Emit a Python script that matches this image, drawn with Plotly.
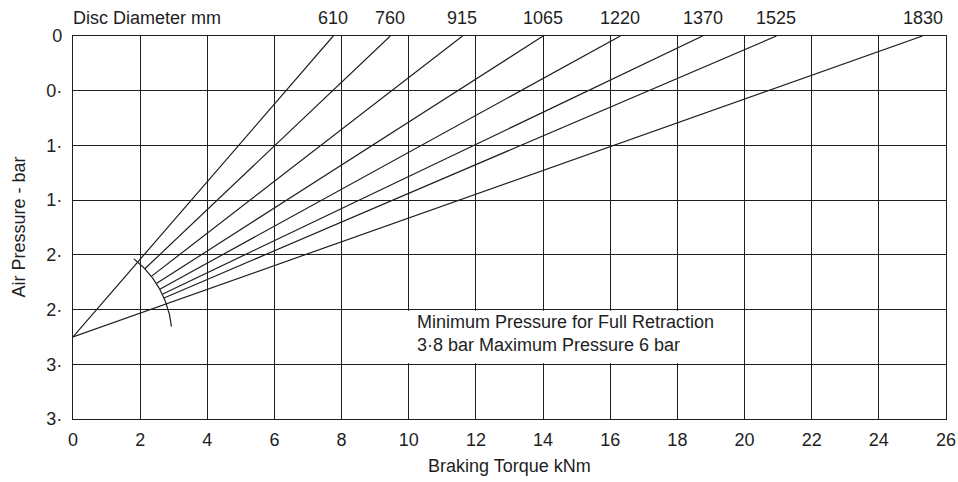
import numpy as np
import plotly.graph_objects as go

# ---- data ----
disc_diameters_mm = [610, 760, 915, 1065, 1220, 1370, 1525, 1830]
torque_at_zero_bar = [7.75, 9.45, 11.6, 14.0, 16.3, 18.75, 20.95, 25.3]   # kNm where each line meets 0 bar
origin_pressure = 2.75                                                     # bar at 0 kNm (common origin)
x_ticks = list(range(0, 27, 2))
y_ticks = [0, 0.5, 1.0, 1.5, 2.0, 2.5, 3.0, 3.5]
y_tick_text = ["0", "0·", "1·", "1·", "2·", "2·", "3·", "3·"]

# ---- layout constants ----
W, H = 958, 482
ML, MR, MT, MB = 73, 12, 36, 63
X_RANGE = (0, 26)
Y_RANGE = (3.5, 0)
INK = "#1e1e1e"
FONT = "Liberation Sans, Arial, sans-serif"
FS = 18

plot_w = W - ML - MR
plot_h = H - MT - MB
px_per_x = plot_w / (X_RANGE[1] - X_RANGE[0])
px_per_y = plot_h / (Y_RANGE[0] - Y_RANGE[1])

ARC_R_PX = 99
ARC_A0, ARC_A1 = 6, 52  # degrees (pixel space)

fig = go.Figure()

for i, (d, xt) in enumerate(zip(disc_diameters_mm, torque_at_zero_bar)):
    dx_px = xt * px_per_x
    dy_px = origin_pressure * px_per_y
    L = np.hypot(dx_px, dy_px)
    if i == 0 or i == len(disc_diameters_mm) - 1:
        x0, y0 = 0.0, origin_pressure
    else:
        x0 = ARC_R_PX * dx_px / L / px_per_x
        y0 = origin_pressure - ARC_R_PX * dy_px / L / px_per_y
    fig.add_trace(go.Scatter(
        x=[x0, xt], y=[y0, 0], mode="lines",
        line=dict(color=INK, width=1.2),
        hoverinfo="skip", showlegend=False, name=f"{d} mm"))

# arc
ang = np.radians(np.linspace(ARC_A0, ARC_A1, 60))
fig.add_trace(go.Scatter(
    x=ARC_R_PX * np.cos(ang) / px_per_x,
    y=origin_pressure - ARC_R_PX * np.sin(ang) / px_per_y,
    mode="lines", line=dict(color=INK, width=1.2),
    hoverinfo="skip", showlegend=False))

annotations = []
for d, xt in zip(disc_diameters_mm, torque_at_zero_bar):
    annotations.append(dict(
        x=xt, y=1, xref="x", yref="paper", text=str(d), showarrow=False,
        xanchor="center", yanchor="middle", yshift=18,
        font=dict(family=FONT, size=FS, color=INK)))
annotations.append(dict(
    x=0, y=1, xref="paper", yref="paper", text="Disc Diameter mm", showarrow=False,
    xanchor="left", yanchor="middle", yshift=18, xshift=-2,
    font=dict(family=FONT, size=FS, color=INK)))
annotations.append(dict(
    x=10.2, y=2.72, xref="x", yref="y", align="left",
    text="Minimum Pressure for Full Retraction<br>3·8 bar Maximum Pressure 6 bar",
    showarrow=False, xanchor="left", yanchor="middle",
    font=dict(family=FONT, size=FS, color=INK)))
annotations.append(dict(
    x=0, y=0.5, xref="paper", yref="paper", text="Air Pressure - bar", showarrow=False,
    textangle=-90, xanchor="center", yanchor="middle", xshift=-(ML - 18),
    font=dict(family=FONT, size=FS, color=INK)))
annotations.append(dict(
    x=0.5, y=0, xref="paper", yref="paper", text="Braking Torque kNm", showarrow=False,
    xanchor="center", yanchor="middle", yshift=-(466 - (H - MB)),
    font=dict(family=FONT, size=FS, color=INK)))

fig.update_layout(
    width=W, height=H,
    margin=dict(l=ML, r=MR, t=MT, b=MB, autoexpand=False),
    paper_bgcolor="white", plot_bgcolor="white",
    font=dict(family=FONT, size=FS, color=INK),
    showlegend=False,
    annotations=annotations,
    shapes=[dict(type="rect", xref="x", yref="y", x0=9.83, x1=19.93, y0=2.51, y1=2.99,
                 fillcolor="white", line=dict(width=0), layer="above")],
    xaxis=dict(range=list(X_RANGE), tickvals=x_ticks, showgrid=True, gridcolor=INK,
               gridwidth=1.2, showline=True, mirror=True, linecolor=INK, linewidth=1.2,
               zeroline=False, ticks="outside", ticklen=4, tickcolor="rgba(0,0,0,0)",
               automargin=False),
    yaxis=dict(range=list(Y_RANGE), tickvals=y_ticks, ticktext=y_tick_text, showgrid=True,
               gridcolor=INK, gridwidth=1.2, showline=True, mirror=True, linecolor=INK,
               linewidth=1.2, zeroline=False, ticks="outside", ticklen=6,
               tickcolor="rgba(0,0,0,0)", automargin=False),
)

fig.write_html(
    "out.html",
    config={"displayModeBar": False},
    post_script="document.body.style.margin='0';document.body.style.overflow='hidden';",
)
